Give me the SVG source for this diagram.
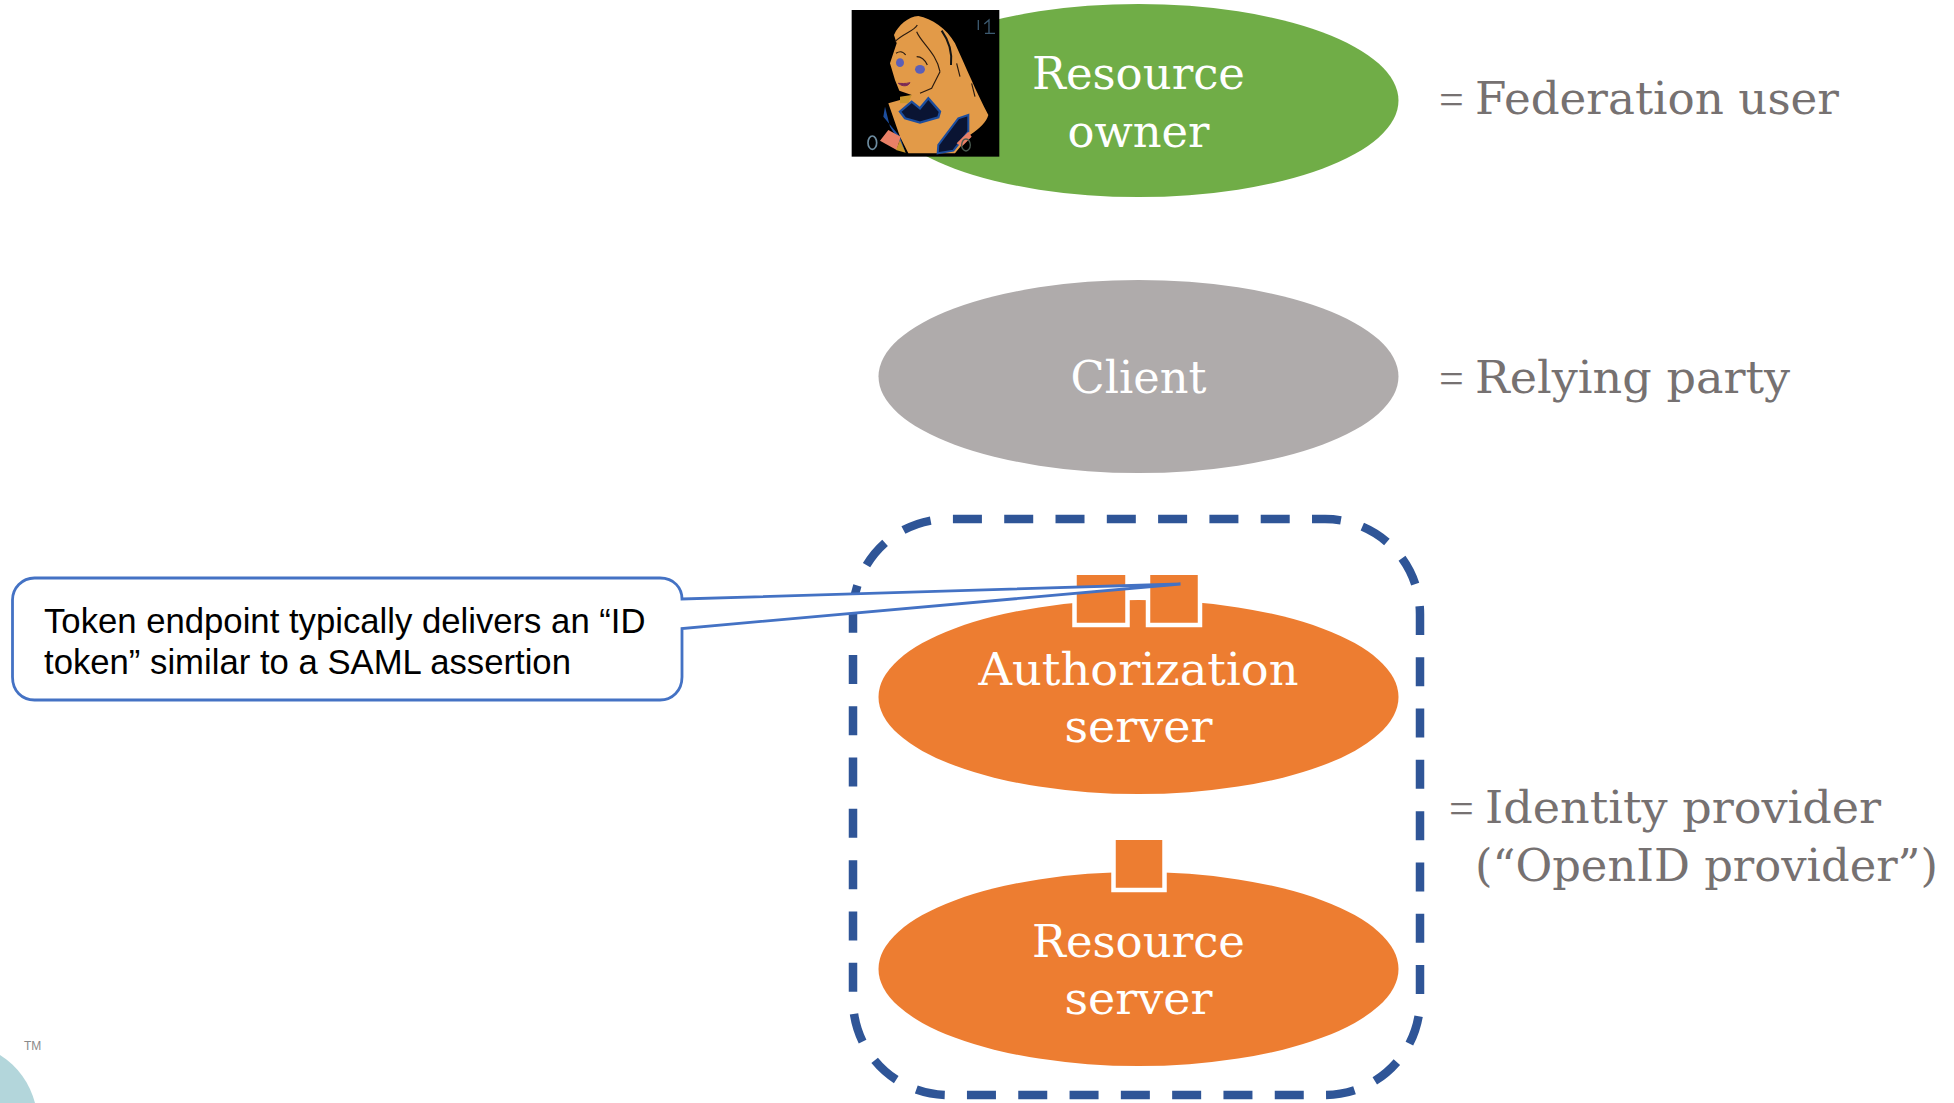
<svg xmlns="http://www.w3.org/2000/svg" width="1954" height="1103" viewBox="0 0 1954 1103">
<style>
.lbl{font-family:"DejaVu Serif","Liberation Serif",serif;font-size:44px;fill:#fff;text-anchor:middle}
.side{font-family:"DejaVu Serif","Liberation Serif",serif;font-size:44px;fill:#767171}
.eq{font-family:"Liberation Serif",serif;font-size:44px;fill:#767171}
.call{font-family:"Liberation Sans",Arial,sans-serif;font-size:34.700px;fill:#000}
.port{fill:#ed7d31;stroke:#fff;stroke-width:4.500}
.or{fill:#ed7d31}
</style>
<rect width="1954" height="1103" fill="#fff"/>
<g id="logo">
<path d="M0 1055C18 1066 30 1084 35 1103L0 1103Z" fill="#b3d6db"/>
<text x="24" y="1050" font-family="Liberation Sans,sans-serif" font-size="12" fill="#8a8a8a">TM</text>
</g>
<g id="resource-owner">
<ellipse cx="1138.500" cy="100.500" rx="260" ry="96.500" fill="#70ad47"/>
<g transform="translate(840 0) scale(.3333)">
<rect x="35" y="30" width="443" height="440" fill="#000"/>
<path d="M235 48C275 55 320 85 345 130C375 195 410 280 445 345C440 365 420 385 390 405L345 460H205L180 410L145 310L180 300L215 285L178 272L165 240L150 190L170 130L162 105C175 75 205 50 235 48Z" fill="#e29a48"/>
<path d="M180 290L215 285L205 310L180 310Z" fill="#c9962c"/>
<path d="M135 320L130 350L180 410L197 460L178 425L150 380Z" fill="#1d4e9e"/>
<path d="M385 345L355 355L295 435L293 460L340 452L385 395Z" fill="#0a1433" stroke="#1d4e9e" stroke-width="6"/>
<path d="M180 335L215 305L240 325L265 295L300 335L295 352L240 368L195 355Z" fill="#0a1433" stroke="#1d4e9e" stroke-width="7"/>
<path d="M145 390L120 422L170 450L182 410ZM350 430L385 395L395 410L365 440Z" fill="#e98066"/>
<path d="M180 420L197 458L168 450Z" fill="#c9962c"/>
<path d="M305 92C325 120 338 150 333 195" fill="none" stroke="#141414" stroke-width="6"/>
<path d="M165 125C190 100 220 95 232 75M230 95C245 130 290 160 300 215M168 160C180 152 190 155 197 165M230 170C245 170 255 180 262 195M300 215L275 265L240 280M350 190L360 230M395 250L405 290" fill="none" stroke="#2a1b10" stroke-width="3.500"/>
<ellipse cx="180" cy="188" rx="12" ry="13" fill="#5b5fb8"/>
<ellipse cx="240" cy="208" rx="15" ry="13" fill="#5b5fb8"/>
<path d="M175 250C190 262 205 258 210 248C195 252 185 250 175 250Z" fill="#7a2a55" stroke="#7a2a55" stroke-width="3"/>
<ellipse cx="97" cy="428" rx="13" ry="20" fill="none" stroke="#6d8ca0" stroke-width="5"/>
<ellipse cx="378" cy="435" rx="13" ry="18" fill="none" stroke="#4a5a50" stroke-width="4"/>
<path d="M415 60V90M433 72L447 60V100M435 100H465" fill="none" stroke="#3c5a70" stroke-width="4"/>
</g>
<text class="lbl" x="1138.500" y="89" textLength="213" lengthAdjust="spacingAndGlyphs">Resource</text>
<text class="lbl" x="1138.500" y="147" textLength="142" lengthAdjust="spacingAndGlyphs">owner</text>
</g>
<g id="client">
<ellipse cx="1138.500" cy="376.500" rx="260" ry="96.500" fill="#afabab"/>
<text class="lbl" x="1138.500" y="393" textLength="136" lengthAdjust="spacingAndGlyphs">Client</text>
</g>
<g id="identity-provider">
<path d="M853 614A95 95 0 0 1 948 519H1325A95 95 0 0 1 1420 614V1000A95 95 0 0 1 1325 1095H948A95 95 0 0 1 853 1000Z" fill="none" stroke="#2f5597" stroke-width="8.500" stroke-dasharray="29 22.300"/>
</g>
<g id="authorization-server">
<ellipse class="or" cx="1138.500" cy="697" rx="260" ry="97"/>
<rect class="port" x="1074.500" y="560" width="53" height="65"/>
<rect class="port" x="1148" y="560" width="52" height="65"/>
<rect x="1070" y="556" width="135" height="19" fill="#fff"/>
<text class="lbl" x="1138.500" y="685" textLength="320" lengthAdjust="spacingAndGlyphs">Authorization</text>
<text class="lbl" x="1138.500" y="742" textLength="148" lengthAdjust="spacingAndGlyphs">server</text>
</g>
<g id="resource-server">
<ellipse class="or" cx="1138.500" cy="969" rx="260" ry="97"/>
<rect class="port" x="1113.500" y="826" width="51" height="64"/>
<rect x="1108" y="822" width="62" height="18" fill="#fff"/>
<text class="lbl" x="1138.500" y="957" textLength="213" lengthAdjust="spacingAndGlyphs">Resource</text>
<text class="lbl" x="1138.500" y="1014" textLength="148" lengthAdjust="spacingAndGlyphs">server</text>
</g>
<g id="labels">
<text class="eq" x="1439" y="114">=</text>
<text class="side" x="1475" y="114" textLength="364" lengthAdjust="spacingAndGlyphs">Federation user</text>
<text class="eq" x="1439" y="393">=</text>
<text class="side" x="1475" y="393" textLength="315" lengthAdjust="spacingAndGlyphs">Relying party</text>
<text class="eq" x="1449" y="823">=</text>
<text class="side" x="1485" y="823" textLength="396" lengthAdjust="spacingAndGlyphs">Identity provider</text>
<text class="side" x="1475" y="881" textLength="463" lengthAdjust="spacingAndGlyphs">(“OpenID provider”)</text>
</g>
<g id="callout">
<path d="M34.500 578H660C674 578 682 588 682 599L1180.500 584L682 628.500V677C682 691 672 700 660 700H34.500C22 700 12.500 691 12.500 677V600C12.500 588 22 578 34.500 578Z" fill="#fff" stroke="#4472c4" stroke-width="2.800"/>
<text class="call" x="44" y="632.500">Token endpoint typically delivers an “ID</text>
<text class="call" x="44" y="673.500">token” similar to a SAML assertion</text>
</g>
</svg>
